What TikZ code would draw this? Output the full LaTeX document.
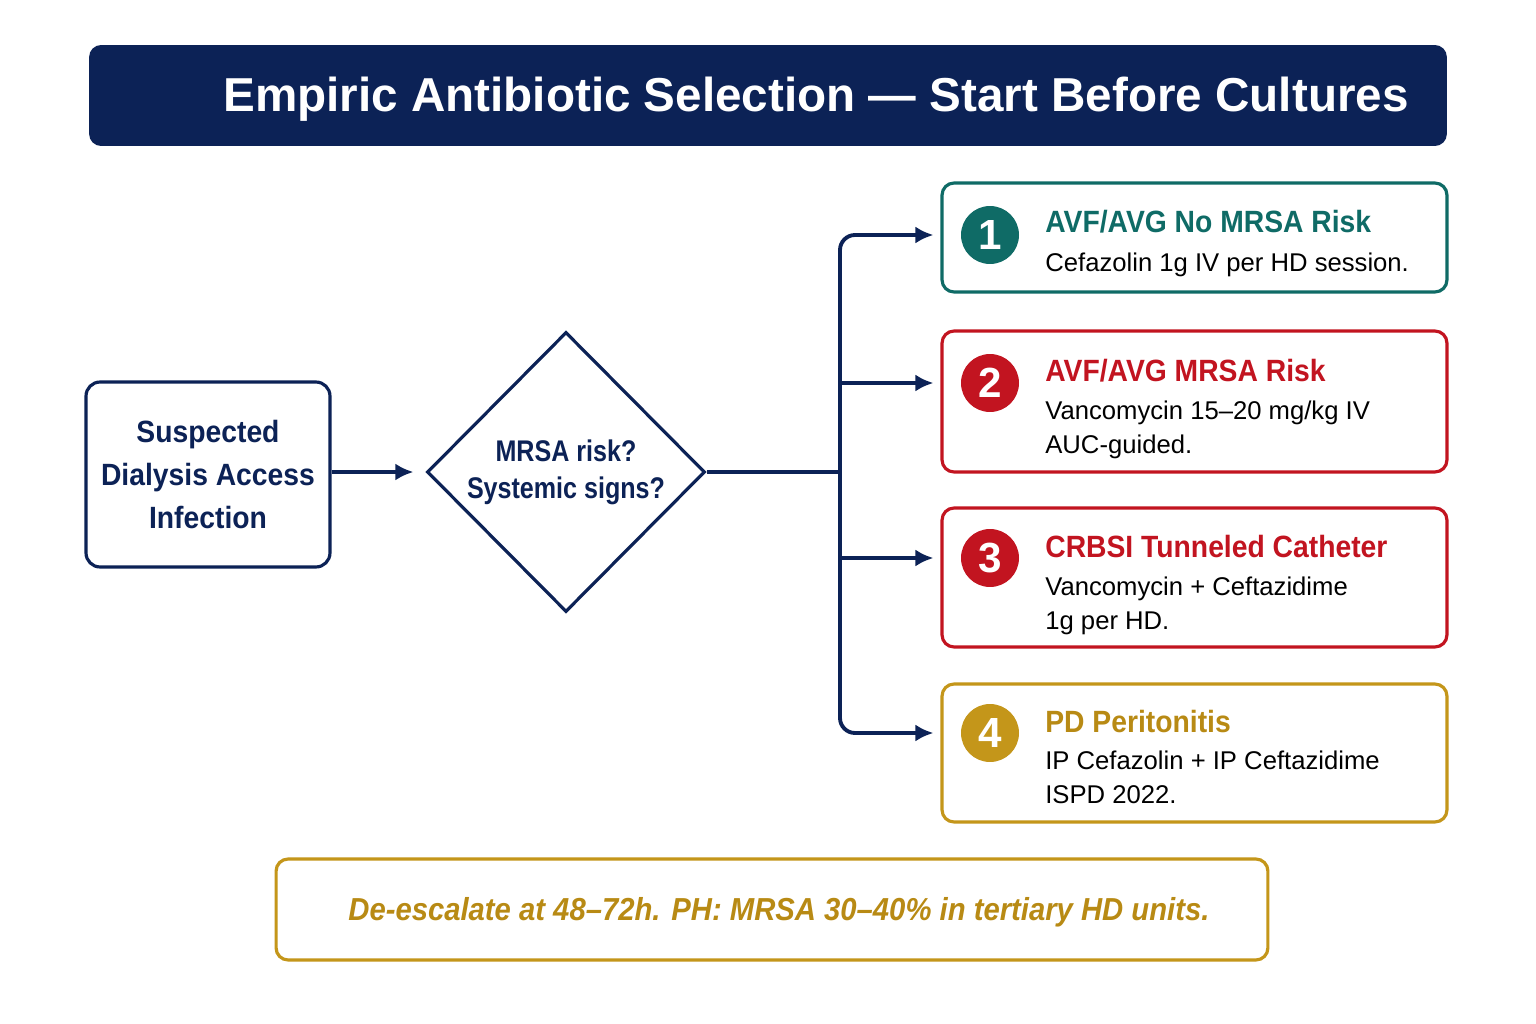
\documentclass[tikz,border=0pt]{standalone}
\usepackage{fontspec}
\setmainfont{Liberation Sans}
\newfontfamily\narrowfont[FakeStretch=0.92]{Liberation Sans}
\newfontfamily\tightfont[FakeStretch=0.84]{Liberation Sans}
\usetikzlibrary{arrows.meta, calc, shapes.geometric}
\definecolor{navy}{HTML}{0C2256}
\definecolor{tealc}{HTML}{0F6B66}
\definecolor{redc}{HTML}{C21420}
\definecolor{goldc}{HTML}{C4961A}
\definecolor{golddark}{HTML}{B88A14}

\begin{document}
\begin{tikzpicture}[x=0.02cm,y=-0.02cm,inner sep=0pt,>={Latex[length=0.36cm,width=0.34cm]},
  conn/.style={navy,line width=2.2pt},
  card/.style={draw=#1,line width=1.8pt,rounded corners=0.24cm,fill=white,minimum width=10.1cm},
  badge/.style={circle,fill=#1,minimum size=1.16cm,text=white,font=\fontsize{24}{24}\selectfont\bfseries},
  head/.style={anchor=west,text=#1,font=\narrowfont\fontsize{17.5}{20}\selectfont\bfseries},
  body/.style={anchor=north west,align=left,font=\fontsize{14.6}{19.3}\selectfont}]
\useasboundingbox (0,0) rectangle (1536,1024);
\fill[white] (0,0) rectangle (1536,1024);

% title bar
\node [fill=navy,rounded corners=0.24cm,minimum width=27.16cm,minimum height=2.02cm] (bar) at (768,95.5) {};
\node [text=white,font=\fontsize{27.1}{27}\selectfont\bfseries] (title) at (816,99) {Empiric Antibiotic Selection — Start Before Cultures};

% start and decision
\node [draw=navy,line width=1.8pt,rounded corners=0.28cm,minimum width=4.88cm,minimum height=3.7cm,
  align=center,text=navy,font=\narrowfont\fontsize{17.5}{24.5}\selectfont\bfseries] (start) at (208,474.5)
  {Suspected\\Dialysis Access\\Infection};
\node [draw=navy,line width=1.8pt,diamond,aspect=1,minimum width=5.56cm,minimum height=5.6cm,
  align=center,text=navy,font=\tightfont\fontsize{17}{21}\selectfont\bfseries] (dec) at (566,472)
  {MRSA risk?\\Systemic signs?};

% regimen cards
\node [card=tealc,minimum height=2.18cm] (b1) at (1194.5,237.5) {};
\node [card=redc,minimum height=2.82cm] (b2) at (1194.5,401.5) {};
\node [card=redc,minimum height=2.78cm] (b3) at (1194.5,577.5) {};
\node [card=goldc,minimum height=2.76cm] (b4) at (1194.5,753) {};

\node [badge=tealc] (n1) at (990,235) {1};
\node [badge=redc] (n2) at (990,383) {2};
\node [badge=redc] (n3) at (990,558) {3};
\node [badge=goldc] (n4) at (990,733) {4};

\node [head=tealc] (h1) at (1045,222) {AVF/AVG No MRSA Risk};
\node [body] (t1) at (1045,253) {Cefazolin 1g IV per HD session.};
\node [head=redc] (h2) at (1045,371) {AVF/AVG MRSA Risk};
\node [body] (t2) at (1045,401) {Vancomycin 15–20 mg/kg IV\\AUC-guided.};
\node [head=redc] (h3) at (1045,547) {CRBSI Tunneled Catheter};
\node [body] (t3) at (1045,577) {Vancomycin + Ceftazidime\\1g per HD.};
\node [head=golddark] (h4) at (1045,722) {PD Peritonitis};
\node [body] (t4) at (1045,751) {IP Cefazolin + IP Ceftazidime\\ISPD 2022.};

% connectors
\coordinate (J) at (840,472);
\draw [conn,->,shorten >=0.24cm] (start.east |- dec) -- (dec.west);
\draw [conn] (dec.east) -- (J);
\draw [conn,->,rounded corners=0.3cm,shorten >=0.14cm] (J) |- (b1.west |- n1);
\draw [conn,->,rounded corners=0.3cm,shorten >=0.14cm] (J) |- (b4.west |- n4);
\draw [conn,->,shorten >=0.14cm] (J |- n2) -- (b2.west |- n2);
\draw [conn,->,shorten >=0.14cm] (J |- n3) -- (b3.west |- n3);

% footer note
\node [draw=goldc,line width=1.8pt,rounded corners=0.24cm,minimum width=19.84cm,minimum height=2.02cm] (note) at (772,909.5) {};
\node [text=golddark,font=\narrowfont\fontsize{18.1}{20}\selectfont\bfseries\itshape] (notetext) at (779,912)
  {De-escalate at 48–72h. PH: MRSA 30–40\% in tertiary HD units.};
\end{tikzpicture}
\end{document}
